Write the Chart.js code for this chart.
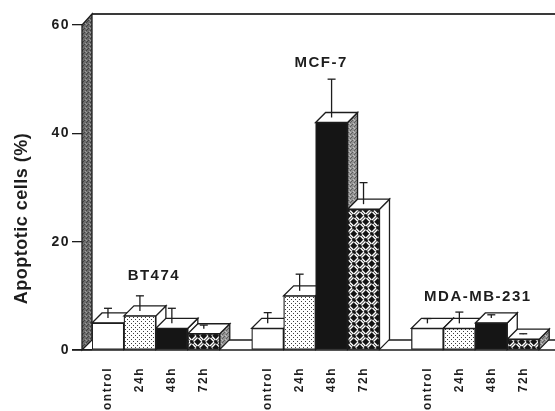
<!DOCTYPE html>
<html>
<head>
<meta charset="utf-8">
<script src="https://cdn.jsdelivr.net/npm/chart.js@4/dist/chart.umd.min.js"></script>
<style>
  html, body { margin: 0; padding: 0; background: #fff; }
  #wrap { width: 555px; height: 411px; position: relative; overflow: hidden; }
</style>
</head>
<body>
<div id="wrap"><canvas id="chart"></canvas></div>
<script>
// Apoptotic cells (%) per cell line and treatment time
const timepoints = ['control', '24h', '48h', '72h'];
const cellLines = ['BT474', 'MCF-7', 'MDA-MB-231'];
const bt474 = [5.0, 6.3, 4.0, 3.0];
const mcf7 = [4.0, 10.0, 42.0, 26.0];
const mdaMb231 = [4.0, 4.0, 5.0, 2.0];
const bt474Err = [2.7, 3.7, 3.7, 1.6];
const mcf7Err = [2.9, 4.0, 8.0, 4.9];
const mdaMb231Err = [1.8, 3.0, 1.5, 1.0];
const yTicks = [0, 20, 40, 60];

// Flatten the groups into one row of slots, with an empty slot between groups
const groupValues = [bt474, mcf7, mdaMb231];
const groupErrors = [bt474Err, mcf7Err, mdaMb231Err];
const labels = [], values = [], errors = [], groupOf = [], timeOf = [];
groupValues.forEach((vals, g) => {
  if (g > 0) { labels.push(''); values.push(null); errors.push(null); groupOf.push(-1); timeOf.push(-1); }
  vals.forEach((v, t) => {
    labels.push(timepoints[t]); values.push(v); errors.push(groupErrors[g][t]);
    groupOf.push(g); timeOf.push(t);
  });
});

// Look of the drawing
const DX = 10, DY = -10;             // depth of the boxes
const ink = '#1d1d1d';
const fontFamily = "'Liberation Sans', Arial, sans-serif";
const groupLabelLevel = [13.7, 53.1, 9.8];
const groupLabelShift = [-2, 5.5, 2.5];
const shadedSide = new Set([3, 7, 13]);

function makePattern(size, paint) {
  const c = document.createElement('canvas');
  c.width = c.height = size;
  const g = c.getContext('2d');
  paint(g, size);
  return g.createPattern(c, 'repeat');
}
const dots = makePattern(4, (g) => {
  g.fillStyle = '#fff'; g.fillRect(0, 0, 4, 4);
  g.fillStyle = '#3e3e3e'; g.fillRect(1, 1, 1, 1); g.fillRect(3, 3, 1, 1);
});
const weave = makePattern(12, (g) => {
  g.fillStyle = '#141414'; g.fillRect(0, 0, 12, 12);
  g.strokeStyle = '#fff'; g.lineWidth = 1.5; g.lineCap = 'butt';
  const seg = (a, b, c, d) => { g.beginPath(); g.moveTo(a, b); g.lineTo(c, d); g.stroke(); };
  // two strands per cell, alternating direction cell by cell
  seg(0, 4, 4, 0); seg(1.5, 5.5, 5.5, 1.5);
  seg(6, 10, 10, 6); seg(7.5, 11.5, 11.5, 7.5);
  seg(8, 0.5, 11.5, 4); seg(6.5, 2, 10, 5.5);
  seg(2, 6.5, 5.5, 10); seg(0.5, 8, 4, 11.5);
});
const stipple = (base, dark, light) => makePattern(4, (g) => {
  g.fillStyle = base; g.fillRect(0, 0, 4, 4);
  g.fillStyle = dark; g.fillRect(0, 0, 1, 1); g.fillRect(2, 2, 1, 1); g.fillRect(3, 1, 1, 1);
  g.fillStyle = light; g.fillRect(1, 3, 1, 1); g.fillRect(2, 0, 1, 1);
});
const wallFill = stipple('#6c6c6c', '#404040', '#9a9a9a');
const sideFill = stipple('#939393', '#5e5e5e', '#c0c0c0');
const frontFills = ['#ffffff', dots, '#151515', weave];

function poly(ctx, pts, fill) {
  ctx.beginPath();
  ctx.moveTo(pts[0][0], pts[0][1]);
  for (let i = 1; i < pts.length; i++) ctx.lineTo(pts[i][0], pts[i][1]);
  ctx.closePath();
  ctx.fillStyle = fill; ctx.fill(); ctx.stroke();
}
function line(ctx, x1, y1, x2, y2) {
  ctx.beginPath(); ctx.moveTo(x1, y1); ctx.lineTo(x2, y2); ctx.stroke();
}

const box3d = {
  id: 'box3d',
  beforeDraw(chart) {
    chart.ctx.letterSpacing = '1.5px';
  },
  beforeDatasetsDraw(chart) {
    const { ctx, chartArea: a } = chart;
    const W = chart.width;
    ctx.save();
    ctx.letterSpacing = '0px';
    ctx.strokeStyle = ink; ctx.lineJoin = 'miter';
    // floor
    ctx.lineWidth = 1.3;
    line(ctx, a.left, a.bottom + DY, W, a.bottom + DY);
    line(ctx, a.left - DX - 10, a.bottom, W, a.bottom);
    // back wall top edge
    ctx.lineWidth = 2;
    ctx.strokeStyle = '#3a3a3a';
    line(ctx, a.left, a.top + DY - 1, W, a.top + DY - 1);
    // left wall
    ctx.strokeStyle = ink; ctx.lineWidth = 1.3;
    poly(ctx, [[a.left - DX, a.bottom], [a.left - DX, a.top], [a.left, a.top + DY - 1], [a.left, a.bottom + DY]], wallFill);
    // side and top faces of the boxes
    const meta = chart.getDatasetMeta(0);
    meta.data.forEach((bar, i) => {
      if (values[i] == null) return;
      const p = bar.getProps(['x', 'y', 'base', 'width'], true);
      const l = p.x - p.width / 2, r = p.x + p.width / 2;
      poly(ctx, [[r, p.y], [r + DX, p.y + DY], [r + DX, p.base + DY], [r, p.base]],
        shadedSide.has(i) ? sideFill : '#fff');
      poly(ctx, [[l, p.y], [l + DX, p.y + DY], [r + DX, p.y + DY], [r, p.y]], '#fff');
    });
    ctx.restore();
  },
  afterDatasetsDraw(chart) {
    const { ctx, chartArea: a, scales: { y } } = chart;
    const meta = chart.getDatasetMeta(0);
    ctx.save();
    ctx.strokeStyle = ink; ctx.lineWidth = 1.3;
    // error bars rising from the top faces
    meta.data.forEach((bar, i) => {
      if (values[i] == null) return;
      const p = bar.getProps(['x', 'y'], true);
      const yEnd = y.getPixelForValue(values[i] + errors[i]);
      line(ctx, p.x, p.y + DY / 2, p.x, yEnd);
      line(ctx, p.x - 4, yEnd, p.x + 4, yEnd);
    });
    // cell line names over each group
    ctx.fillStyle = ink;
    ctx.font = `bold 15px ${fontFamily}`;
    ctx.letterSpacing = '1.5px';
    ctx.textAlign = 'center'; ctx.textBaseline = 'middle';
    cellLines.forEach((name, g) => {
      const xs = meta.data.filter((_, i) => groupOf[i] === g).map(b => b.x);
      const cx = xs.reduce((s, v) => s + v, 0) / xs.length + groupLabelShift[g];
      ctx.fillText(name, cx, y.getPixelForValue(groupLabelLevel[g]));
    });
    // y axis title
    ctx.letterSpacing = '0.5px';
    ctx.font = `bold 18px ${fontFamily}`;
    ctx.translate(22, (a.top + a.bottom) / 2 + 31);
    ctx.rotate(-Math.PI / 2);
    ctx.fillText('Apoptotic cells (%)', 0, 0);
    ctx.restore();
  }
};

new Chart(document.getElementById('chart'), {
  type: 'bar',
  data: {
    labels: labels,
    datasets: [{
      data: values,
      backgroundColor: timeOf.map(t => t < 0 ? '#fff' : frontFills[t]),
      borderColor: ink,
      borderWidth: 1.3,
      borderSkipped: false,
      categoryPercentage: 1,
      barPercentage: 1
    }]
  },
  options: {
    responsive: true,
    maintainAspectRatio: false,
    animation: false,
    devicePixelRatio: 1,
    layout: { padding: { top: 25, right: 10, left: 0, bottom: 0 } },
    plugins: { legend: { display: false }, tooltip: { enabled: false } },
    scales: {
      x: {
        grid: { display: false, drawTicks: false },
        border: { display: false },
        ticks: {
          autoSkip: false, maxRotation: 90, minRotation: 90, padding: 17,
          color: ink, font: { family: fontFamily, weight: 'bold', size: 12 }
        },
        afterFit(s) { s.height = 61; }
      },
      y: {
        min: 0, max: 60,
        afterBuildTicks(s) { s.ticks = yTicks.map(v => ({ value: v })); },
        grid: { drawOnChartArea: false, tickLength: 20, color: ink, lineWidth: 1.3 },
        border: { display: false },
        ticks: { padding: 2, color: ink, font: { family: fontFamily, weight: 'bold', size: 14 } },
        afterFit(s) { s.width = 92; }
      }
    }
  },
  plugins: [box3d]
});
</script>
</body>
</html>
